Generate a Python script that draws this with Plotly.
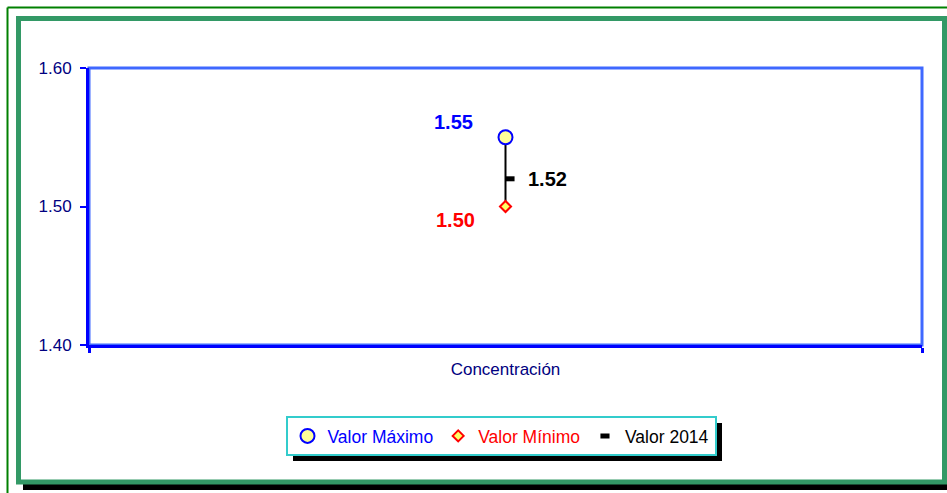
import plotly.graph_objects as go

# ---- data ----
categories = ["Concentración"]
valor_maximo = [1.55]
valor_minimo = [1.50]
valor_2014 = [1.52]
series_names = ["Valor Máximo", "Valor Mínimo", "Valor 2014"]
y_ticks = [1.40, 1.50, 1.60]

# ---- layout geometry (pixels) ----
W, H = 947, 493
L, R, T, B = 89, 922, 68, 345  # plot area edges


def px(x):
    return (x - L) / (R - L)


def py(y):
    return (B - y) / (B - T)


FONT = "Arial, Liberation Sans, sans-serif"
cat_pos = list(range(len(categories)))
close_off = 0.0054

fig = go.Figure()

# high-low line
for i, c in enumerate(cat_pos):
    fig.add_trace(go.Scatter(
        x=[c, c], y=[valor_minimo[i], valor_maximo[i]], mode="lines",
        line=dict(color="black", width=2), showlegend=False, hoverinfo="skip"))

fig.add_trace(go.Scatter(
    x=cat_pos, y=valor_maximo, mode="markers",
    name="<span style='color:#0000FF'>" + series_names[0] + "</span>",
    marker=dict(symbol="circle", size=14, color="#FFFF99",
                line=dict(color="#0000FF", width=2))))
fig.add_trace(go.Scatter(
    x=cat_pos, y=valor_minimo, mode="markers",
    name="<span style='color:#FF0000'>" + series_names[1] + "</span>",
    marker=dict(symbol="diamond", size=8.5, color="#FFFF66",
                line=dict(color="#FF0000", width=2))))
fig.add_trace(go.Scatter(
    x=[c + close_off for c in cat_pos], y=valor_2014, mode="markers",
    name="<span style='color:#000000'>" + series_names[2] + "</span>",
    marker=dict(symbol="line-ew", size=6.5, color="black",
                line=dict(color="black", width=5))))

# value labels
for i, c in enumerate(cat_pos):
    fig.add_annotation(x=c, y=valor_maximo[i], text="<b>%.2f</b>" % valor_maximo[i],
                       showarrow=False, xshift=-52, yshift=15,
                       font=dict(family=FONT, size=20, color="#0000FF"))
    fig.add_annotation(x=c, y=valor_minimo[i], text="<b>%.2f</b>" % valor_minimo[i],
                       showarrow=False, xshift=-50, yshift=-13,
                       font=dict(family=FONT, size=20, color="#FF0000"))
    fig.add_annotation(x=c, y=valor_2014[i], text="<b>%.2f</b>" % valor_2014[i],
                       showarrow=False, xshift=42, yshift=0,
                       font=dict(family=FONT, size=20, color="#000000"))

shapes = [
    # outer thin green frame
    dict(type="line", xref="paper", yref="paper", x0=px(7.5), x1=px(W + 5),
         y0=py(7.5), y1=py(7.5), line=dict(color="#008000", width=2)),
    dict(type="line", xref="paper", yref="paper", x0=px(7.5), x1=px(7.5),
         y0=py(7.5), y1=py(H + 5), line=dict(color="#008000", width=2)),
    # black shadow under inner frame
    dict(type="rect", xref="paper", yref="paper", x0=px(23), x1=px(W + 5),
         y0=py(490), y1=py(484), fillcolor="black", line=dict(width=0)),
    # inner sea-green frame
    dict(type="rect", xref="paper", yref="paper", x0=px(18.5), x1=px(944.5),
         y0=py(482), y1=py(18.5), line=dict(color="#339966", width=5)),
    # plot border (top/right lighter blue)
    dict(type="rect", xref="paper", yref="paper", x0=0, x1=1, y0=0, y1=1,
         line=dict(color="#3F68FF", width=3), layer="below"),
    # legend shadow
    dict(type="rect", xref="paper", yref="paper", x0=px(293), x1=px(722),
         y0=py(461), y1=py(423), fillcolor="black", line=dict(width=0)),
]

fig.update_layout(
    width=W, height=H,
    margin=dict(l=L, r=W - R, t=T, b=H - B, pad=0),
    paper_bgcolor="white", plot_bgcolor="white",
    font=dict(family=FONT, size=17, color="#000080"),
    showlegend=True,
    legend=dict(orientation="h", x=px(501), xanchor="center", y=py(416), yanchor="top",
                bgcolor="white", bordercolor="#33CCCC", borderwidth=2,
                font=dict(family=FONT, size=17.5), itemwidth=30,
                tracegroupgap=0),
    shapes=shapes,
    xaxis=dict(range=[-0.5, len(categories) - 0.5], tickmode="array",
               tickvals=cat_pos, ticktext=categories, ticks="",
               showgrid=False, zeroline=False, showline=True,
               linecolor="#0000FF", linewidth=3, ticklabelstandoff=7,
               tickfont=dict(family=FONT, size=17, color="#000080"),
               minor=dict(ticks="outside", tickmode="array", tickvals=[-0.5, 0.5],
                          ticklen=5, tickwidth=3, tickcolor="#0000FF", showgrid=False),
               fixedrange=True),
    yaxis=dict(range=[y_ticks[0], y_ticks[-1]], tickmode="array", tickvals=y_ticks,
               tickformat=".2f", ticks="outside", ticklen=6, tickwidth=2,
               tickcolor="#0000FF", showgrid=False, zeroline=False, showline=True,
               linecolor="#0000FF", linewidth=3, ticklabelstandoff=5,
               tickfont=dict(family=FONT, size=17, color="#000080"),
               fixedrange=True),
)

fig.write_html("out.html", config={"displayModeBar": False},
               post_script="document.body.style.margin='0';document.body.style.overflow='hidden';")
